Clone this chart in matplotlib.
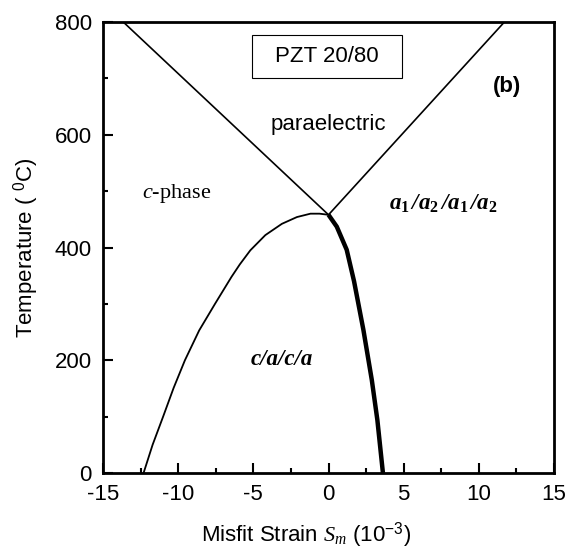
import matplotlib
matplotlib.use("Agg")
import matplotlib.pyplot as plt
from matplotlib.patches import Rectangle
from matplotlib.ticker import MultipleLocator

plt.rcParams["font.family"] = ["Liberation Sans", "DejaVu Sans"]
plt.rcParams["axes.unicode_minus"] = False
plt.rcParams["mathtext.fontset"] = "custom"
plt.rcParams["mathtext.rm"] = "Liberation Sans"
plt.rcParams["mathtext.it"] = "Liberation Serif:italic"
plt.rcParams["mathtext.bf"] = "Liberation Serif:bold"
plt.rcParams["mathtext.bfit"] = "Liberation Serif:italic:bold"

# Phase boundaries of PZT 20/80 film: temperature (C) vs misfit strain (1e-3)
para_left_strain = [-13.65, 0.0]
para_left_temp = [800, 458]
para_right_strain = [0.0, 11.7]
para_right_temp = [458, 800]

c_caca_strain = [-12.3, -11.7, -11.0, -10.3, -9.55, -8.6, -7.55, -6.45, -5.9, -5.2,
                 -4.2, -3.1, -2.1, -1.2, -0.6, 0.0]
c_caca_temp = [0, 50, 100, 151, 200, 253, 300, 348, 370, 395,
               422, 442, 454, 460, 460, 458]

caca_a1a2_strain = [0.0, 0.55, 1.21, 1.7, 2.32, 2.88, 3.25, 3.62]
caca_a1a2_temp = [458, 437, 396, 340, 254, 165, 94, 0]

xlim = (-15, 15)
ylim = (0, 800)
fs = 16

fig = plt.figure(figsize=(5.68, 5.5), dpi=100)
ax = fig.add_axes([0.1813, 0.14, 0.7941, 0.82])

ax.plot(para_left_strain, para_left_temp, color="black", lw=1.2)
ax.plot(para_right_strain, para_right_temp, color="black", lw=1.2)
ax.plot(c_caca_strain, c_caca_temp, color="black", lw=1.3)
ax.plot(caca_a1a2_strain, caca_a1a2_temp, color="black", lw=3.2, solid_capstyle="butt")

ax.set_xlim(*xlim)
ax.set_ylim(*ylim)
ax.xaxis.set_major_locator(MultipleLocator(5))
ax.xaxis.set_minor_locator(MultipleLocator(2.5))
ax.yaxis.set_major_locator(MultipleLocator(200))
ax.yaxis.set_minor_locator(MultipleLocator(100))
ax.tick_params(which="both", direction="in", top=False, right=False, width=1.5,
               labelsize=fs, color="black")
ax.tick_params(which="major", length=7.5)
ax.tick_params(axis="x", which="major", pad=8)
ax.tick_params(axis="y", which="major", pad=8)
ax.tick_params(which="minor", length=3.8)
for s in ax.spines.values():
    s.set_linewidth(2.0)

ax.set_xlabel(r"Misfit Strain $S_{m}$ (10$^{\mathrm{-3}}$)", fontsize=fs)
ax.xaxis.set_label_coords(0.45, -0.105)
ax.set_ylabel(r"Temperature ( $^{\mathrm{0}}$C)", fontsize=fs)
ax.yaxis.set_label_coords(-0.137, 0.5)

# title frame
ax.add_patch(Rectangle((0.331, 0.876), 0.331, 0.095, transform=ax.transAxes,
                       fc="white", ec="black", lw=0.8, zorder=3))
ax.text(0.496, 0.9235, "PZT 20/80", fontsize=fs, ha="center", va="center",
        transform=ax.transAxes, zorder=4)
ax.text(0, 619, "paraelectric", fontsize=fs, ha="center", va="center")
ax.text(11.86, 685, "(b)", fontsize=fs, fontweight="bold", ha="center", va="center")
ax.text(-10.1, 496, r"$\mathit{c}$-phase", fontsize=16, ha="center", va="center",
        family="Liberation Serif")
ax.text(-3.12, 201, "c/a/c/a", fontsize=16.5, ha="center", va="center",
        family="Liberation Serif", fontweight="bold", style="italic")
ax.text(7.64, 478,
        r"$\mathbfit{a}_{\mathbf{1}}\,\mathbfit{/a}_{\mathbf{2}}\,\mathbfit{/a}_{\mathbf{1}}\,\mathbfit{/a}_{\mathbf{2}}$",
        fontsize=16.5, ha="center", va="center")

fig.savefig("out.png", dpi=100)
